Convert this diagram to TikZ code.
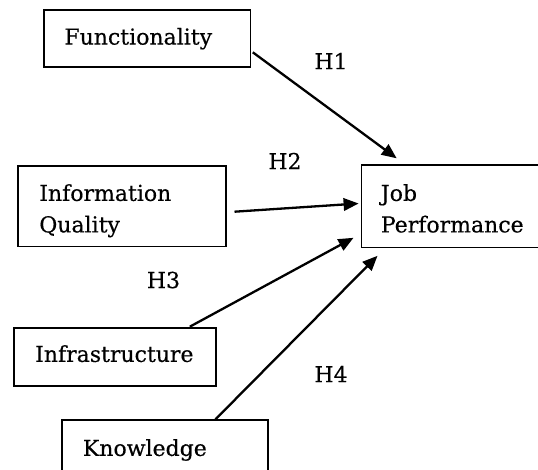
\documentclass[tikz,border=0pt]{standalone}
\usepackage{fontspec}
\setmainfont[FakeBold=0.4]{DejaVu Serif}
\usetikzlibrary{arrows.meta,calc}
\begin{document}
\begin{tikzpicture}[x=1pt,y=-1pt,
  box/.style={draw,line width=1.8pt,rectangle,anchor=north west,align=left,text height=16pt,
    font=\fontsize{22}{31.5}\selectfont},
  lab/.style={font=\fontsize{22}{26}\selectfont,inner sep=0pt},
  arr/.style={line width=2.3pt,-{Triangle[length=15pt,width=12.5pt]}}]
\useasboundingbox (0,0) rectangle (538,469);
\clip (0,0) rectangle (538,469);
\node[box,inner xsep=20.5pt,inner ysep=18.7pt,text width=165.5pt,text depth=3.6pt] (func) at (43,9) {Functionality};
\node[box,inner xsep=21.1pt,inner ysep=19pt,text width=165.3pt,text depth=26.5pt] (info) at (17.3,165) {Information\\Quality};
\node[box,inner xsep=19.5pt,inner ysep=20pt,text width=146pt,text depth=26.5pt] (job) at (360.5,164) {Job\\Performance};
\node[box,inner xsep=21.6pt,inner ysep=17.7pt,text width=159.3pt,text depth=6.6pt] (infra) at (12.7,327.3) {Infrastructure};
\node[box,inner xsep=21pt,inner ysep=19.7pt,text width=164pt,text depth=4.6pt] (know) at (61,419.3) {Knowledge};
\node[lab] (h1) at (331,61) {H1};
\node[lab] (h2) at (285,161) {H2};
\node[lab] (h3) at (163.5,280) {H3};
\node[lab] (h4) at (331,374) {H4};
\draw[arr] ($(func.north east)+(1.5,43.3)$) -- ($(job.north west)+(36.2,-5.7)$);
\draw[arr] ($(info.north east)+(7.9,46.7)$) -- ($(job.north west)+(-1.9,39.5)$);
\draw[arr] ($(infra.north west)+(177.1,-0.6)$) -- ($(job.south west)+(-7,-10.5)$);
\draw[arr] ($(know.north west)+(154.5,0)$) -- ($(job.south west)+(17,7.5)$);
\end{tikzpicture}
\end{document}
